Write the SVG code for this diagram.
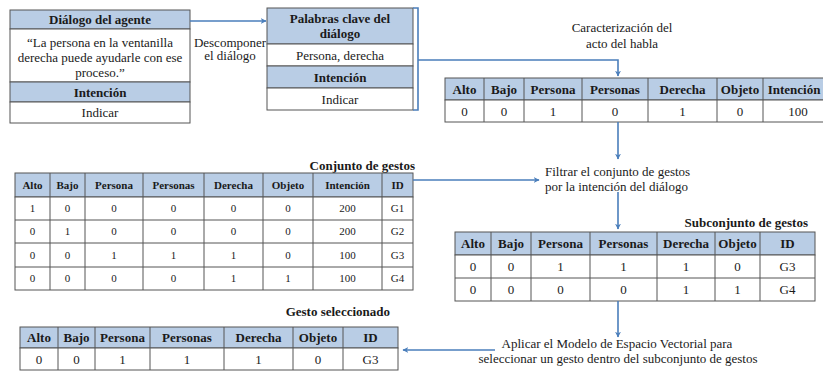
<svg xmlns="http://www.w3.org/2000/svg" width="823" height="372" viewBox="0 0 823 372" font-family="'Liberation Serif', 'DejaVu Serif', 'Times New Roman', serif">
<defs>
<marker id="ah" viewBox="0 0 10 10" refX="9" refY="5" markerWidth="6" markerHeight="6" markerUnits="userSpaceOnUse" orient="auto">
<path d="M0,0 L10,5 L0,10 L3,5 Z" fill="#4a7ebb"/>
</marker>
<style>
.hd{fill:#b9cde5;stroke:#555;stroke-width:1}
.cell{fill:#fff;stroke:#555;stroke-width:1}
.ln{stroke:#555;stroke-width:1}
text{font-family:'Liberation Serif','DejaVu Serif',serif;fill:#1a1a1a;text-anchor:middle}
.b{font-weight:bold;font-size:13px}
.r{font-size:13px}
.s{font-size:11px}
.sb{font-weight:bold;font-size:11px}
.lbl{font-size:13px}
.ttl{font-weight:bold;font-size:13px;text-anchor:end}
.con{fill:none;stroke:#4a7ebb;stroke-width:1.6}
</style>
</defs>
<rect width="823" height="372" fill="#fff"/>

<g id="dialogo-agente">
<rect x="10" y="10" width="180" height="19" class="hd"/>
<rect x="10" y="29" width="180" height="53" class="cell"/>
<rect x="10" y="82" width="180" height="20" class="hd"/>
<rect x="10" y="102" width="180" height="21" class="cell"/>
<text x="100" y="24" class="b">Diálogo del agente</text>
<text x="100" y="46.5" class="r">“La persona en la ventanilla</text>
<text x="100" y="61.5" class="r">derecha puede ayudarle con ese</text>
<text x="100" y="76.5" class="r">proceso.”</text>
<text x="100" y="96.5" class="b">Intención</text>
<text x="100" y="117" class="r">Indicar</text>
</g>

<g id="descomponer">
<text x="230" y="46.5" class="lbl">Descomponer</text>
<text x="230" y="60" class="lbl">el diálogo</text>
</g>

<g id="palabras-clave">
<rect x="267" y="8" width="146" height="36" class="hd"/>
<rect x="267" y="44" width="146" height="22" class="cell"/>
<rect x="267" y="66" width="146" height="22" class="hd"/>
<rect x="267" y="88" width="146" height="22" class="cell"/>
<text x="340" y="22.5" class="b">Palabras clave del</text>
<text x="340" y="38" class="b">diálogo</text>
<text x="340" y="60" class="r">Persona, derecha</text>
<text x="340" y="81.5" class="b">Intención</text>
<text x="340" y="103.5" class="r">Indicar</text>
</g>

<g id="caracterizacion">
<text x="622" y="31.5" class="lbl">Caracterización del</text>
<text x="622" y="48" class="lbl">acto del habla</text>
</g>

<g id="vector-dialogo">
<rect x="445" y="78" width="395" height="22" class="hd"/>
<rect x="445" y="100" width="395" height="22" class="cell"/>
<path class="ln" d="M484,78V122M524,78V122M582,78V122M648,78V122M717,78V122M763,78V122"/>
<text x="464.5" y="93.5" class="b">Alto</text>
<text x="504" y="93.5" class="b">Bajo</text>
<text x="553" y="93.5" class="b">Persona</text>
<text x="615" y="93.5" class="b">Personas</text>
<text x="682.5" y="93.5" class="b">Derecha</text>
<text x="740" y="93.5" class="b">Objeto</text>
<text x="794" y="93.5" class="b">Intención</text>
<text x="464.5" y="115.5" class="r">0</text>
<text x="504" y="115.5" class="r">0</text>
<text x="553" y="115.5" class="r">1</text>
<text x="615" y="115.5" class="r">0</text>
<text x="682.5" y="115.5" class="r">1</text>
<text x="740" y="115.5" class="r">0</text>
<text x="798" y="115.5" class="r">100</text>
</g>

<g id="filtrar">
<text x="545" y="175.5" class="lbl" style="text-anchor:start">Filtrar el conjunto de gestos</text>
<text x="545" y="190.5" class="lbl" style="text-anchor:start">por la intención del diálogo</text>
</g>

<g id="conjunto-gestos">
<text x="415" y="170" class="ttl">Conjunto de gestos</text>
<rect x="15" y="173" width="398" height="24" class="hd"/>
<rect x="15" y="197" width="398" height="93" class="cell"/>
<path class="ln" d="M15,220H413M15,243H413M15,267H413M50,173V290M85,173V290M143,173V290M204,173V290M263,173V290M313,173V290M382,173V290"/>
<g class="sb">
<text x="32.5" y="189">Alto</text><text x="67.5" y="189">Bajo</text><text x="114" y="189">Persona</text><text x="173.5" y="189">Personas</text><text x="233.5" y="189">Derecha</text><text x="288" y="189">Objeto</text><text x="347.5" y="189">Intención</text><text x="397.5" y="189">ID</text>
</g>
<g class="s">
<text x="32.5" y="212">1</text><text x="67.5" y="212">0</text><text x="114" y="212">0</text><text x="173.5" y="212">0</text><text x="233.5" y="212">0</text><text x="288" y="212">0</text><text x="347.5" y="212">200</text><text x="397.5" y="212">G1</text>
<text x="32.5" y="235">0</text><text x="67.5" y="235">1</text><text x="114" y="235">0</text><text x="173.5" y="235">0</text><text x="233.5" y="235">0</text><text x="288" y="235">0</text><text x="347.5" y="235">200</text><text x="397.5" y="235">G2</text>
<text x="32.5" y="259">0</text><text x="67.5" y="259">0</text><text x="114" y="259">1</text><text x="173.5" y="259">1</text><text x="233.5" y="259">1</text><text x="288" y="259">0</text><text x="347.5" y="259">100</text><text x="397.5" y="259">G3</text>
<text x="32.5" y="282">0</text><text x="67.5" y="282">0</text><text x="114" y="282">0</text><text x="173.5" y="282">0</text><text x="233.5" y="282">1</text><text x="288" y="282">1</text><text x="347.5" y="282">100</text><text x="397.5" y="282">G4</text>
</g>
</g>

<g id="subconjunto-gestos">
<text x="808" y="227" class="ttl">Subconjunto de gestos</text>
<rect x="455" y="232" width="360" height="23" class="hd"/>
<rect x="455" y="255" width="360" height="46" class="cell"/>
<path class="ln" d="M455,278H815M491,232V301M531,232V301M590,232V301M657,232V301M715,232V301M760,232V301"/>
<g class="b">
<text x="473" y="248">Alto</text><text x="511" y="248">Bajo</text><text x="560.5" y="248">Persona</text><text x="623.5" y="248">Personas</text><text x="686" y="248">Derecha</text><text x="737.5" y="248">Objeto</text><text x="787.5" y="248">ID</text>
</g>
<g class="r">
<text x="473" y="271">0</text><text x="511" y="271">0</text><text x="560.5" y="271">1</text><text x="623.5" y="271">1</text><text x="686" y="271">1</text><text x="737.5" y="271">0</text><text x="787.5" y="271">G3</text>
<text x="473" y="294">0</text><text x="511" y="294">0</text><text x="560.5" y="294">0</text><text x="623.5" y="294">0</text><text x="686" y="294">1</text><text x="737.5" y="294">1</text><text x="787.5" y="294">G4</text>
</g>
</g>

<g id="aplicar">
<text x="617" y="347.5" class="lbl">Aplicar el Modelo de Espacio Vectorial para</text>
<text x="618" y="362.5" class="lbl">seleccionar un gesto dentro del subconjunto de gestos</text>
</g>

<g id="gesto-seleccionado">
<text x="390" y="316" class="ttl">Gesto seleccionado</text>
<rect x="20" y="327" width="378" height="21" class="hd"/>
<rect x="20" y="348" width="378" height="22" class="cell"/>
<path class="ln" d="M58,327V370M95,327V370M150,327V370M224,327V370M293,327V370M343,327V370"/>
<g class="b">
<text x="39" y="342">Alto</text><text x="76.5" y="342">Bajo</text><text x="122.5" y="342">Persona</text><text x="187" y="342">Personas</text><text x="258.5" y="342">Derecha</text><text x="318" y="342">Objeto</text><text x="370.5" y="342">ID</text>
</g>
<g class="r">
<text x="39" y="363.5">0</text><text x="76.5" y="363.5">0</text><text x="122.5" y="363.5">1</text><text x="187" y="363.5">1</text><text x="258.5" y="363.5">1</text><text x="318" y="363.5">0</text><text x="370.5" y="363.5">G3</text>
</g>
</g>

<g id="connectors">
<path class="con" d="M190,21H266" marker-end="url(#ah)"/>
<path class="con" d="M413,8H418V110H413M418,60H618V76" marker-end="url(#ah)"/>
<path class="con" d="M618,122V159" marker-end="url(#ah)"/>
<path class="con" d="M413,180H539" marker-end="url(#ah)"/>
<path class="con" d="M618,192V229" marker-end="url(#ah)"/>
<path class="con" d="M618,301V337" marker-end="url(#ah)"/>
<path class="con" d="M495,350H403" marker-end="url(#ah)"/>
</g>
</svg>
